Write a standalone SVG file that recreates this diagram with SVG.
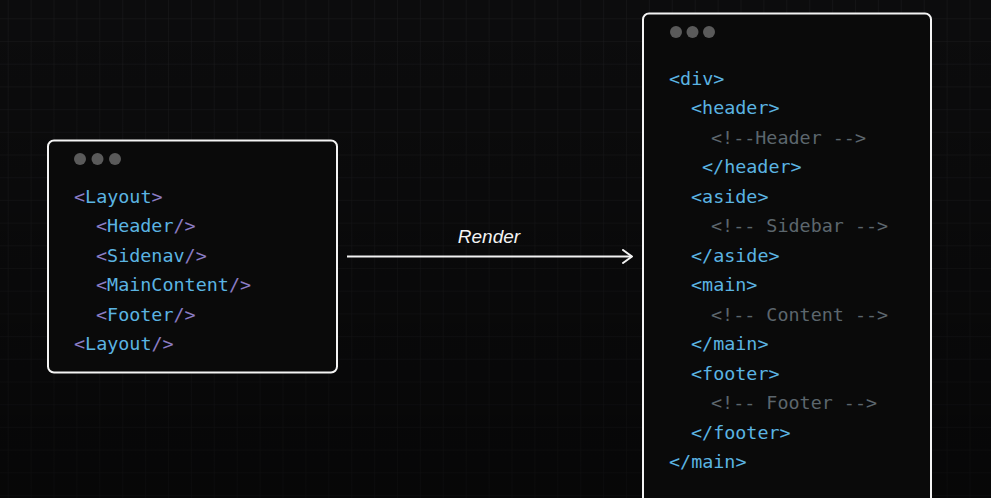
<svg xmlns="http://www.w3.org/2000/svg" width="991" height="498" viewBox="0 0 991 498">
<defs>
<pattern id="grid" x="7.7" y="18.3" width="22.9" height="22.7" patternUnits="userSpaceOnUse">
<path d="M0 0 H22.9 M0 0 V22.7" fill="none" stroke="#1b1b1d" stroke-width="1"/>
</pattern>
<linearGradient id="bgfade" x1="0" y1="0" x2="0" y2="1">
<stop offset="0" stop-color="#000" stop-opacity="0"/>
<stop offset="1" stop-color="#000" stop-opacity="0.45"/>
</linearGradient>
<marker id="arrow" markerWidth="14" markerHeight="16" refX="11" refY="8" orient="auto" markerUnits="userSpaceOnUse">
<path d="M2 1.5 L11 8 L2 14.5" fill="none" stroke="#f2f2f2" stroke-width="2" stroke-linecap="round" stroke-linejoin="round"/>
</marker>
</defs>
<style>
.box{fill:#0a0a0a;stroke:#f4f4f4;stroke-width:2}
.dot{fill:#5a5a5a}
.code{font-family:"DejaVu Sans Mono","Liberation Mono",monospace;font-size:18.4px}
.p{fill:#8a7cc4}
.b{fill:#5bb4e2}
.c{fill:#5c666d}
.lbl{font-family:"Liberation Sans",sans-serif;font-size:19px;fill:#f4f4f4;font-style:italic}
</style>
<rect width="991" height="498" fill="#0c0c0d"/>
<rect width="991" height="498" fill="url(#grid)"/>
<rect width="991" height="498" fill="url(#bgfade)"/>

<g id="layout-node">
<rect class="box" x="48" y="140.5" width="289" height="232" rx="6"/>
<circle class="dot" cx="80" cy="159" r="6"/>
<circle class="dot" cx="97.5" cy="159" r="6"/>
<circle class="dot" cx="115" cy="159" r="6"/>
<g class="code">
<text x="74" y="202.5"><tspan class="p">&lt;</tspan><tspan class="b">Layout</tspan><tspan class="p">&gt;</tspan></text>
<text x="96" y="232"><tspan class="p">&lt;</tspan><tspan class="b">Header</tspan><tspan class="p">/&gt;</tspan></text>
<text x="96" y="261.5"><tspan class="p">&lt;</tspan><tspan class="b">Sidenav</tspan><tspan class="p">/&gt;</tspan></text>
<text x="96" y="291"><tspan class="p">&lt;</tspan><tspan class="b">MainContent</tspan><tspan class="p">/&gt;</tspan></text>
<text x="96" y="320.5"><tspan class="p">&lt;</tspan><tspan class="b">Footer</tspan><tspan class="p">/&gt;</tspan></text>
<text x="74" y="350"><tspan class="p">&lt;</tspan><tspan class="b">Layout</tspan><tspan class="p">/&gt;</tspan></text>
</g>
</g>

<g id="html-node">
<rect class="box" x="643" y="13.5" width="288" height="500" rx="6"/>
<circle class="dot" cx="676" cy="32" r="6"/>
<circle class="dot" cx="692.5" cy="32" r="6"/>
<circle class="dot" cx="709" cy="32" r="6"/>
<g class="code">
<text class="b" x="669" y="84.5">&lt;div&gt;</text>
<text class="b" x="691" y="114">&lt;header&gt;</text>
<text class="c" x="711" y="143.5">&lt;!--Header --&gt;</text>
<text class="b" x="702" y="173">&lt;/header&gt;</text>
<text class="b" x="691" y="202.5">&lt;aside&gt;</text>
<text class="c" x="711" y="232">&lt;!-- Sidebar --&gt;</text>
<text class="b" x="691" y="261.5">&lt;/aside&gt;</text>
<text class="b" x="691" y="291">&lt;main&gt;</text>
<text class="c" x="711" y="320.5">&lt;!-- Content --&gt;</text>
<text class="b" x="691" y="350">&lt;/main&gt;</text>
<text class="b" x="691" y="379.5">&lt;footer&gt;</text>
<text class="c" x="711" y="409">&lt;!-- Footer --&gt;</text>
<text class="b" x="691" y="438.5">&lt;/footer&gt;</text>
<text class="b" x="669" y="468">&lt;/main&gt;</text>
</g>
</g>

<g id="connectors">
<line x1="347" y1="256.5" x2="632" y2="256.5" stroke="#f2f2f2" stroke-width="2" marker-end="url(#arrow)"/>
<text class="lbl" x="489" y="243" text-anchor="middle">Render</text>
</g>
</svg>
